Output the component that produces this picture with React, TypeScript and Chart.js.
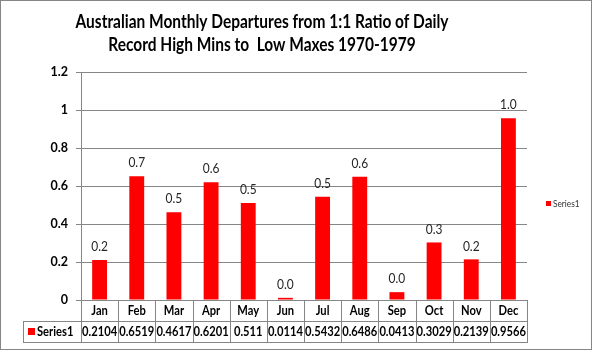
import React, { useEffect, useRef } from "react";
import { Chart, registerables } from "chart.js";

Chart.register(...registerables);

const titleLines = [
  "Australian Monthly Departures from 1:1 Ratio of Daily",
  "Record High Mins to  Low Maxes 1970-1979",
];
const months = ["Jan", "Feb", "Mar", "Apr", "May", "Jun", "Jul", "Aug", "Sep", "Oct", "Nov", "Dec"];
const values = [0.2104, 0.6519, 0.4617, 0.6201, 0.511, 0.0114, 0.5432, 0.6486, 0.0413, 0.3029, 0.2139, 0.9566];
const tableLabels = ["0.2104", "0.6519", "0.4617", "0.6201", "0.511", "0.0114", "0.5432", "0.6486", "0.0413", "0.3029", "0.2139", "0.9566"];
const seriesName = "Series1";
const yMin = 0;
const yMax = 1.2;
const yStep = 0.2;

const FONT = "Lato, 'Open Sans', sans-serif";
const GRID = "#868686";
const RED = "#FF0000";
const NARROW = 0.86;

function txt(
  ctx: CanvasRenderingContext2D,
  s: string,
  x: number,
  y: number,
  align: CanvasTextAlign,
  sx: number
) {
  ctx.save();
  ctx.translate(x, y);
  ctx.scale(sx, 1);
  ctx.textAlign = align;
  ctx.fillText(s, 0, 0);
  ctx.restore();
}

const overlay = {
  id: "overlay",
  afterDraw(chart: any) {
    const ctx = chart.ctx as CanvasRenderingContext2D;
    const ca = chart.chartArea;
    const meta = chart.getDatasetMeta(0);
    ctx.save();

    // Title
    ctx.fillStyle = "#000";
    ctx.textBaseline = "alphabetic";
    ctx.font = `bold 18px ${FONT}`;
    txt(ctx, titleLines[0], 262, 28, "center", NARROW);
    txt(ctx, titleLines[1], 262, 51, "center", NARROW);

    // Data labels
    ctx.font = `13px ${FONT}`;
    ctx.fillStyle = "#262626";
    ctx.textBaseline = "middle";
    meta.data.forEach((bar: any, i: number) => {
      txt(ctx, values[i].toFixed(1), bar.x, bar.y - 13, "center", 0.92);
    });

    // Data table
    const n = months.length;
    const w = (ca.right - ca.left) / n;
    const tableLeft = 23;
    const rowMid = 321.5;
    const rowBot = 342.5;
    ctx.strokeStyle = GRID;
    ctx.lineWidth = 1;
    ctx.beginPath();
    for (let i = 0; i <= n; i++) {
      const x = Math.round(ca.left + i * w) + 0.5;
      ctx.moveTo(x, ca.bottom);
      ctx.lineTo(x, rowBot);
    }
    ctx.moveTo(tableLeft + 0.5, rowMid);
    ctx.lineTo(tableLeft + 0.5, rowBot);
    ctx.moveTo(tableLeft, rowMid);
    ctx.lineTo(ca.right + 1, rowMid);
    ctx.moveTo(tableLeft, rowBot);
    ctx.lineTo(ca.right + 1, rowBot);
    ctx.stroke();

    ctx.fillStyle = "#000";
    ctx.font = `bold 13px ${FONT}`;
    for (let i = 0; i < n; i++) {
      const cx = ca.left + (i + 0.5) * w;
      txt(ctx, months[i], cx, 311, "center", NARROW);
    }
    ctx.font = `bold 13px ${FONT}`;
    for (let i = 0; i < n; i++) {
      const cx = ca.left + (i + 0.5) * w;
      txt(ctx, tableLabels[i], cx, 332, "center", NARROW);
    }
    // legend key in table
    ctx.fillStyle = RED;
    ctx.fillRect(28, 328, 7, 7);
    ctx.fillStyle = "#000";
    txt(ctx, seriesName, 37, 332, "left", NARROW);

    // Right legend
    ctx.fillStyle = RED;
    ctx.fillRect(546, 201, 5, 5);
    ctx.fillStyle = "#333";
    ctx.font = `9px ${FONT}`;
    txt(ctx, seriesName, 553, 204, "left", 0.92);

    // Outer border
    ctx.strokeStyle = GRID;
    ctx.strokeRect(0.5, 0.5, 591, 349);
    ctx.restore();
  },
};

export default function App() {
  const ref = useRef<HTMLCanvasElement>(null);
  useEffect(() => {
    document.body.style.margin = "0";
    const chart = new Chart(ref.current!, {
      type: "bar",
      data: {
        labels: months,
        datasets: [
          {
            label: seriesName,
            data: values,
            backgroundColor: RED,
            borderWidth: 0,
            barPercentage: 0.4,
            categoryPercentage: 1,
          },
        ],
      },
      options: {
        responsive: false,
        animation: false,
        devicePixelRatio: 1,
        layout: { padding: { top: 72, right: 65, bottom: 50, left: 0 } },
        plugins: { legend: { display: false }, title: { display: false }, tooltip: { enabled: false } },
        scales: {
          x: { display: false },
          y: {
            min: yMin,
            max: yMax,
            afterFit: (s: any) => {
              s.width = 81;
            },
            ticks: {
              stepSize: yStep,
              padding: 8,
              color: "#000",
              font: { family: FONT, size: 12.5, weight: "bold" },
              callback: (v: any) => String(Number(Number(v).toFixed(1))),
            },
            grid: { color: GRID, tickLength: 5, lineWidth: 1 },
            border: { color: GRID },
          },
        },
      },
      plugins: [overlay],
    });
    return () => chart.destroy();
  }, []);
  return (
    <div style={{ width: 592, height: 350 }}>
      <canvas ref={ref} width={592} height={350} style={{ display: "block" }} />
    </div>
  );
}
